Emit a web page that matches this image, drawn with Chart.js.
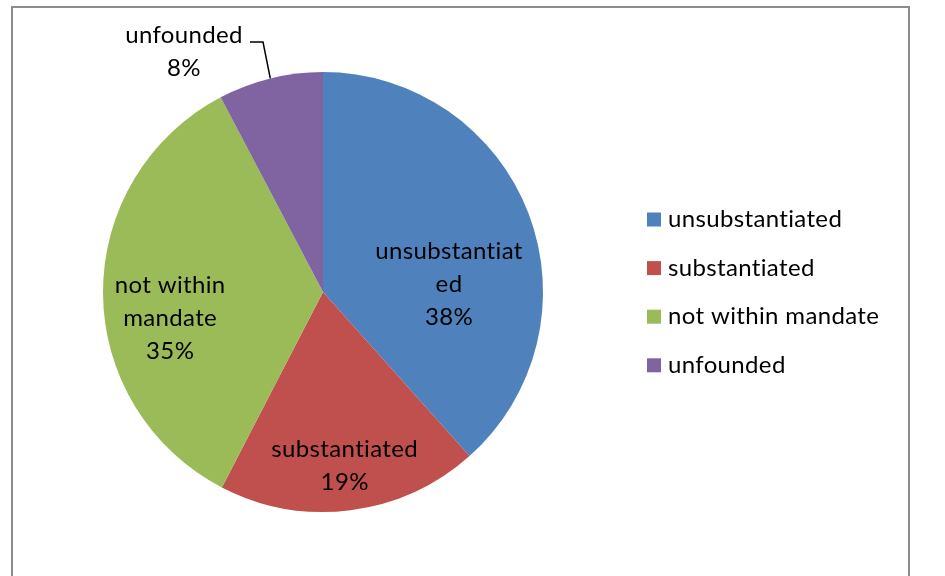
<!DOCTYPE html>
<html>
<head>
<meta charset="utf-8">
<script src="https://cdn.jsdelivr.net/npm/chart.js@4.4.0/dist/chart.umd.min.js"></script>
<style>
  html, body { margin: 0; padding: 0; background: #fff; overflow: hidden; }
  #wrap { position: absolute; left: 0; top: 0; width: 945px; height: 576px; }
  #frame { position: absolute; left: 11px; top: 6px; width: 899px; height: 572px; border: 2px solid #8c8c8c; box-sizing: border-box; pointer-events: none; }
  canvas { position: absolute; left: 0; top: 0; font-variant-ligatures: none; }
</style>
</head>
<body>
<div id="wrap">
  <canvas id="c" width="945" height="576"></canvas>
  <div id="frame"></div>
</div>
<script>
const categories = ["unsubstantiated", "substantiated", "not within mandate", "unfounded"];
const values = [38.4, 19.2, 34.7, 7.7];
const percentLabels = ["38%", "19%", "35%", "8%"];
const sliceLabelLines = [["unsubstantiat", "ed"], ["substantiated"], ["not within", "mandate"], ["unfounded"]];
const colors = ["#4F81BD", "#C0504D", "#9BBB59", "#8064A2"];

const FONT = '24px Lato, "Open Sans", sans-serif';
const LINE_H = 33;

// label placement tweaks per slice: [angle offset in degrees from mid, radius fraction]
const placement = [[17.2, 0.574], [0.1, 0.797], [-9.6, 0.705], null];

function setupText(ctx) {
  ctx.font = FONT;
  try { ctx.letterSpacing = '0.35px'; } catch (e) {}
}

const labelPlugin = {
  id: 'sliceLabels',
  afterDatasetsDraw(chart) {
    const ctx = chart.ctx;
    const meta = chart.getDatasetMeta(0);
    ctx.save();
    setupText(ctx);
    ctx.fillStyle = '#000';
    ctx.textAlign = 'center';
    ctx.textBaseline = 'middle';
    meta.data.forEach((arc, i) => {
      const lines = sliceLabelLines[i].concat([percentLabels[i]]);
      const mid = (arc.startAngle + arc.endAngle) / 2;
      let cx, cy;
      if (placement[i]) {
        const a = mid + placement[i][0] * Math.PI / 180;
        const r = arc.outerRadius * placement[i][1];
        cx = arc.x + Math.cos(a) * r;
        cy = arc.y + Math.sin(a) * r;
      } else {
        // outside label with leader line
        const ex = arc.x + Math.cos(mid) * arc.outerRadius;
        const ey = arc.y + Math.sin(mid) * arc.outerRadius;
        cx = arc.x - 139;
        cy = arc.y - 240.5;
        ctx.strokeStyle = '#000';
        ctx.lineWidth = 1.5;
        ctx.beginPath();
        ctx.moveTo(cx + 66, cy - 9.5);
        ctx.lineTo(cx + 79, cy - 9.5);
        ctx.lineTo(ex, ey);
        ctx.stroke();
      }
      const top = cy - (lines.length - 1) * LINE_H / 2;
      lines.forEach((t, k) => ctx.fillText(t, cx, top + k * LINE_H));
    });
    ctx.restore();
  }
};

const legendPlugin = {
  id: 'sideLegend',
  afterDraw(chart) {
    const ctx = chart.ctx;
    ctx.save();
    setupText(ctx);
    ctx.textAlign = 'left';
    ctx.textBaseline = 'middle';
    categories.forEach((c, i) => {
      const y = 219.5 + i * 48.6;
      ctx.fillStyle = colors[i];
      ctx.fillRect(647, y - 7, 14, 14);
      ctx.fillStyle = '#000';
      ctx.fillText(c, 668, y);
    });
    ctx.restore();
  }
};

new Chart(document.getElementById('c'), {
  type: 'pie',
  data: {
    labels: categories,
    datasets: [{ data: values, backgroundColor: colors, borderWidth: 0 }]
  },
  options: {
    responsive: false,
    animation: false,
    events: [],
    layout: { padding: { left: 103, right: 402, top: 72, bottom: 64 } },
    plugins: { legend: { display: false }, tooltip: { enabled: false } }
  },
  plugins: [labelPlugin, legendPlugin]
});
</script>
</body>
</html>
